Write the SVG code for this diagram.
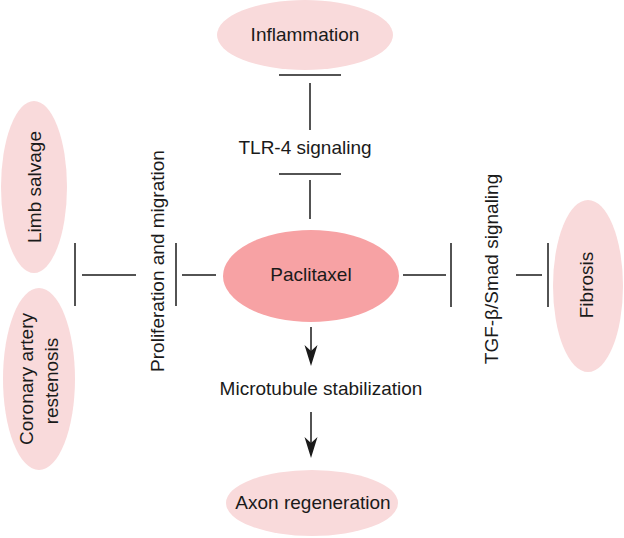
<svg xmlns="http://www.w3.org/2000/svg" width="624" height="538" viewBox="0 0 624 538">
<style>
.lt{fill:#f9dadb}
.dk{fill:#f7a2a4}
text{font-family:"Liberation Sans",Arial,sans-serif;font-size:19px;fill:#1a1a1a;text-anchor:middle}
.ln{stroke:#1a1a1a;stroke-width:1.5;fill:none}
</style>
<defs>
<marker id="arr" markerWidth="14" markerHeight="22" refX="7" refY="21" orient="auto" markerUnits="userSpaceOnUse" viewBox="0 0 14 22">
<path d="M0,0 L7,21 L14,0 L7,7 Z" fill="#1a1a1a" transform="rotate(0)"/>
</marker>
</defs>
<rect width="624" height="538" fill="#ffffff"/>
<g id="connectors">
<line class="ln" x1="279" y1="75" x2="341" y2="75"/>
<line class="ln" x1="310" y1="83" x2="310" y2="130"/>
<line class="ln" x1="279" y1="174" x2="341" y2="174"/>
<line class="ln" x1="310" y1="180" x2="310" y2="219"/>
<line class="ln" x1="182" y1="275" x2="216" y2="275"/>
<line class="ln" x1="176" y1="243" x2="176" y2="306"/>
<line class="ln" x1="82" y1="275" x2="136" y2="275"/>
<line class="ln" x1="75" y1="243" x2="75" y2="306"/>
<line class="ln" x1="403" y1="275" x2="446" y2="275"/>
<line class="ln" x1="451" y1="243" x2="451" y2="307"/>
<line class="ln" x1="516" y1="275" x2="542" y2="275"/>
<line class="ln" x1="548" y1="243" x2="548" y2="307"/>
<path d="M311,327 V352" class="ln"/>
<path d="M304.5,345 L311,366 L317.5,345 L311,351 Z" fill="#1a1a1a"/>
<path d="M311,412 V444" class="ln"/>
<path d="M304.5,437 L311,458 L317.5,437 L311,443 Z" fill="#1a1a1a"/>
</g>
<g id="inflammation">
<ellipse class="lt" cx="305" cy="35" rx="88" ry="35"/>
<text x="305" y="41">Inflammation</text>
</g>
<g id="tlr4">
<text x="305" y="154">TLR-4 signaling</text>
</g>
<g id="paclitaxel">
<ellipse class="dk" cx="311" cy="276" rx="88" ry="46"/>
<text x="311" y="281">Paclitaxel</text>
</g>
<g id="proliferation">
<text transform="translate(164,261) rotate(-90)">Proliferation and migration</text>
</g>
<g id="limb-salvage">
<ellipse class="lt" cx="34" cy="187" rx="33" ry="86"/>
<text transform="translate(41,187) rotate(-90)">Limb salvage</text>
</g>
<g id="coronary">
<ellipse class="lt" cx="39" cy="379" rx="36" ry="91"/>
<text transform="translate(33,379) rotate(-90)">Coronary artery</text>
<text transform="translate(58,381) rotate(-90)">restenosis</text>
</g>
<g id="tgf">
<text transform="translate(498,269) rotate(-90)">TGF-β/Smad signaling</text>
</g>
<g id="fibrosis">
<ellipse class="lt" cx="588" cy="286" rx="35" ry="86"/>
<text transform="translate(593,285) rotate(-90)">Fibrosis</text>
</g>
<g id="microtubule">
<text x="321" y="395">Microtubule stabilization</text>
</g>
<g id="axon">
<ellipse class="lt" cx="312" cy="503" rx="86" ry="33"/>
<text x="313" y="509">Axon regeneration</text>
</g>
</svg>
